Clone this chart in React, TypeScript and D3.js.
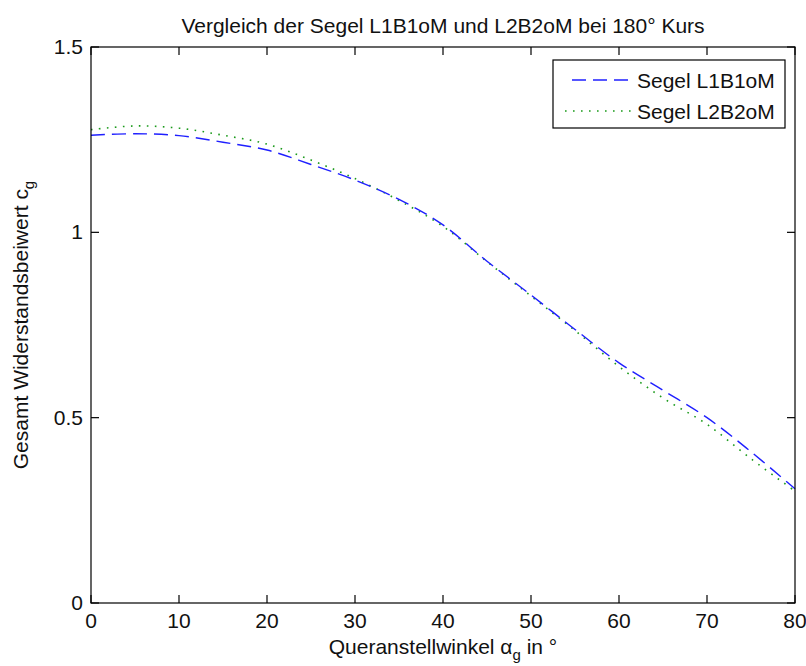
import React from "react";
import * as d3 from "d3";

// Angle of attack (degrees)
const angles = [0, 5, 10, 15, 20, 25, 30, 35, 40, 45, 50, 55, 60, 65, 70, 75, 80];
// Total drag coefficient per sail
const sailL1B1oM = [1.262, 1.266, 1.261, 1.243, 1.222, 1.183, 1.141, 1.089, 1.02, 0.922, 0.831, 0.738, 0.648, 0.574, 0.5, 0.408, 0.308];
const sailL2B2oM = [1.277, 1.287, 1.281, 1.262, 1.238, 1.195, 1.145, 1.086, 1.016, 0.921, 0.828, 0.735, 0.638, 0.553, 0.482, 0.389, 0.302];
const seriesNames = ["Segel L1B1oM", "Segel L2B2oM"];
const xTicks = [0, 10, 20, 30, 40, 50, 60, 70, 80];
const yTicks = [0, 0.5, 1, 1.5];
const titleText = "Vergleich der Segel L1B1oM und L2B2oM bei 180° Kurs";

const W = 806;
const H = 666;
const m = { left: 91, right: 795, top: 47, bottom: 603 };
const FONT = "'Liberation Sans', Arial, sans-serif";
const FS = 21;
const TICK = 8;
const INK = "#111";

export default function App() {
  const x = d3.scaleLinear().domain([0, 80]).range([m.left, m.right]);
  const y = d3.scaleLinear().domain([0, 1.5]).range([m.bottom, m.top]);

  const line = d3
    .line<[number, number]>()
    .x((d) => x(d[0]))
    .y((d) => y(d[1]))
    .curve(d3.curveCatmullRom.alpha(0.5));

  const p1 = line(angles.map((a, i) => [a, sailL1B1oM[i]]) as [number, number][]) || "";
  const p2 = line(angles.map((a, i) => [a, sailL2B2oM[i]]) as [number, number][]) || "";

  const cx = (m.left + m.right) / 2;
  const cy = (m.top + m.bottom) / 2;

  return (
    <svg
      width={W}
      height={H}
      style={{ position: "absolute", left: 0, top: 0, background: "#fff" }}
      fontFamily={FONT}
      fontSize={FS}
    >
      <rect x={0} y={0} width={W} height={H} fill="#fff" />

      {/* data lines */}
      <path d={p2} fill="none" stroke="#1a9a1a" strokeWidth={1.6} strokeDasharray="1.6,6.4" />
      <path d={p1} fill="none" stroke="#1f1fff" strokeWidth={1.4} strokeDasharray="14,7" />

      {/* box with ticks on all four sides */}
      <rect
        x={m.left}
        y={m.top}
        width={m.right - m.left}
        height={m.bottom - m.top}
        fill="none"
        stroke="#000"
        strokeWidth={1.2}
      />
      {xTicks.map((t) => (
        <g key={"xt" + t}>
          <line x1={x(t)} x2={x(t)} y1={m.bottom} y2={m.bottom - TICK} stroke="#000" strokeWidth={1.2} />
          <line x1={x(t)} x2={x(t)} y1={m.top} y2={m.top + TICK} stroke="#000" strokeWidth={1.2} />
          <text x={x(t)} y={m.bottom + 25} textAnchor="middle" fill={INK}>
            {t}
          </text>
        </g>
      ))}
      {yTicks.map((t) => (
        <g key={"yt" + t}>
          <line x1={m.left} x2={m.left + TICK} y1={y(t)} y2={y(t)} stroke="#000" strokeWidth={1.2} />
          <line x1={m.right} x2={m.right - TICK} y1={y(t)} y2={y(t)} stroke="#000" strokeWidth={1.2} />
          <text x={m.left - 8} y={y(t) + 7} textAnchor="end" fill={INK}>
            {t}
          </text>
        </g>
      ))}

      {/* title */}
      <text x={cx} y={33} textAnchor="middle" fill={INK}>
        {titleText}
      </text>

      {/* x axis label */}
      <text x={cx} y={654} textAnchor="middle" fill={INK}>
        Queranstellwinkel α
        <tspan fontSize={15} dy={6}>g</tspan>
        <tspan dy={-6}> in °</tspan>
      </text>

      {/* y axis label */}
      <text transform={`translate(28,${cy}) rotate(-90)`} textAnchor="middle" fill={INK}>
        Gesamt Widerstandsbeiwert c
        <tspan fontSize={15} dy={6}>g</tspan>
      </text>

      {/* legend */}
      <g>
        <rect x={553} y={60} width={232} height={68} fill="#fff" stroke="#000" strokeWidth={1.2} />
        <line x1={572} x2={632} y1={80} y2={80} stroke="#1f1fff" strokeWidth={1.4} strokeDasharray="14,7" />
        <line x1={565} x2={632} y1={111} y2={111} stroke="#1a9a1a" strokeWidth={1.6} strokeDasharray="1.6,6.4" />
        <text x={637} y={88} fill={INK}>
          {seriesNames[0]}
        </text>
        <text x={637} y={119} fill={INK}>
          {seriesNames[1]}
        </text>
      </g>
    </svg>
  );
}
